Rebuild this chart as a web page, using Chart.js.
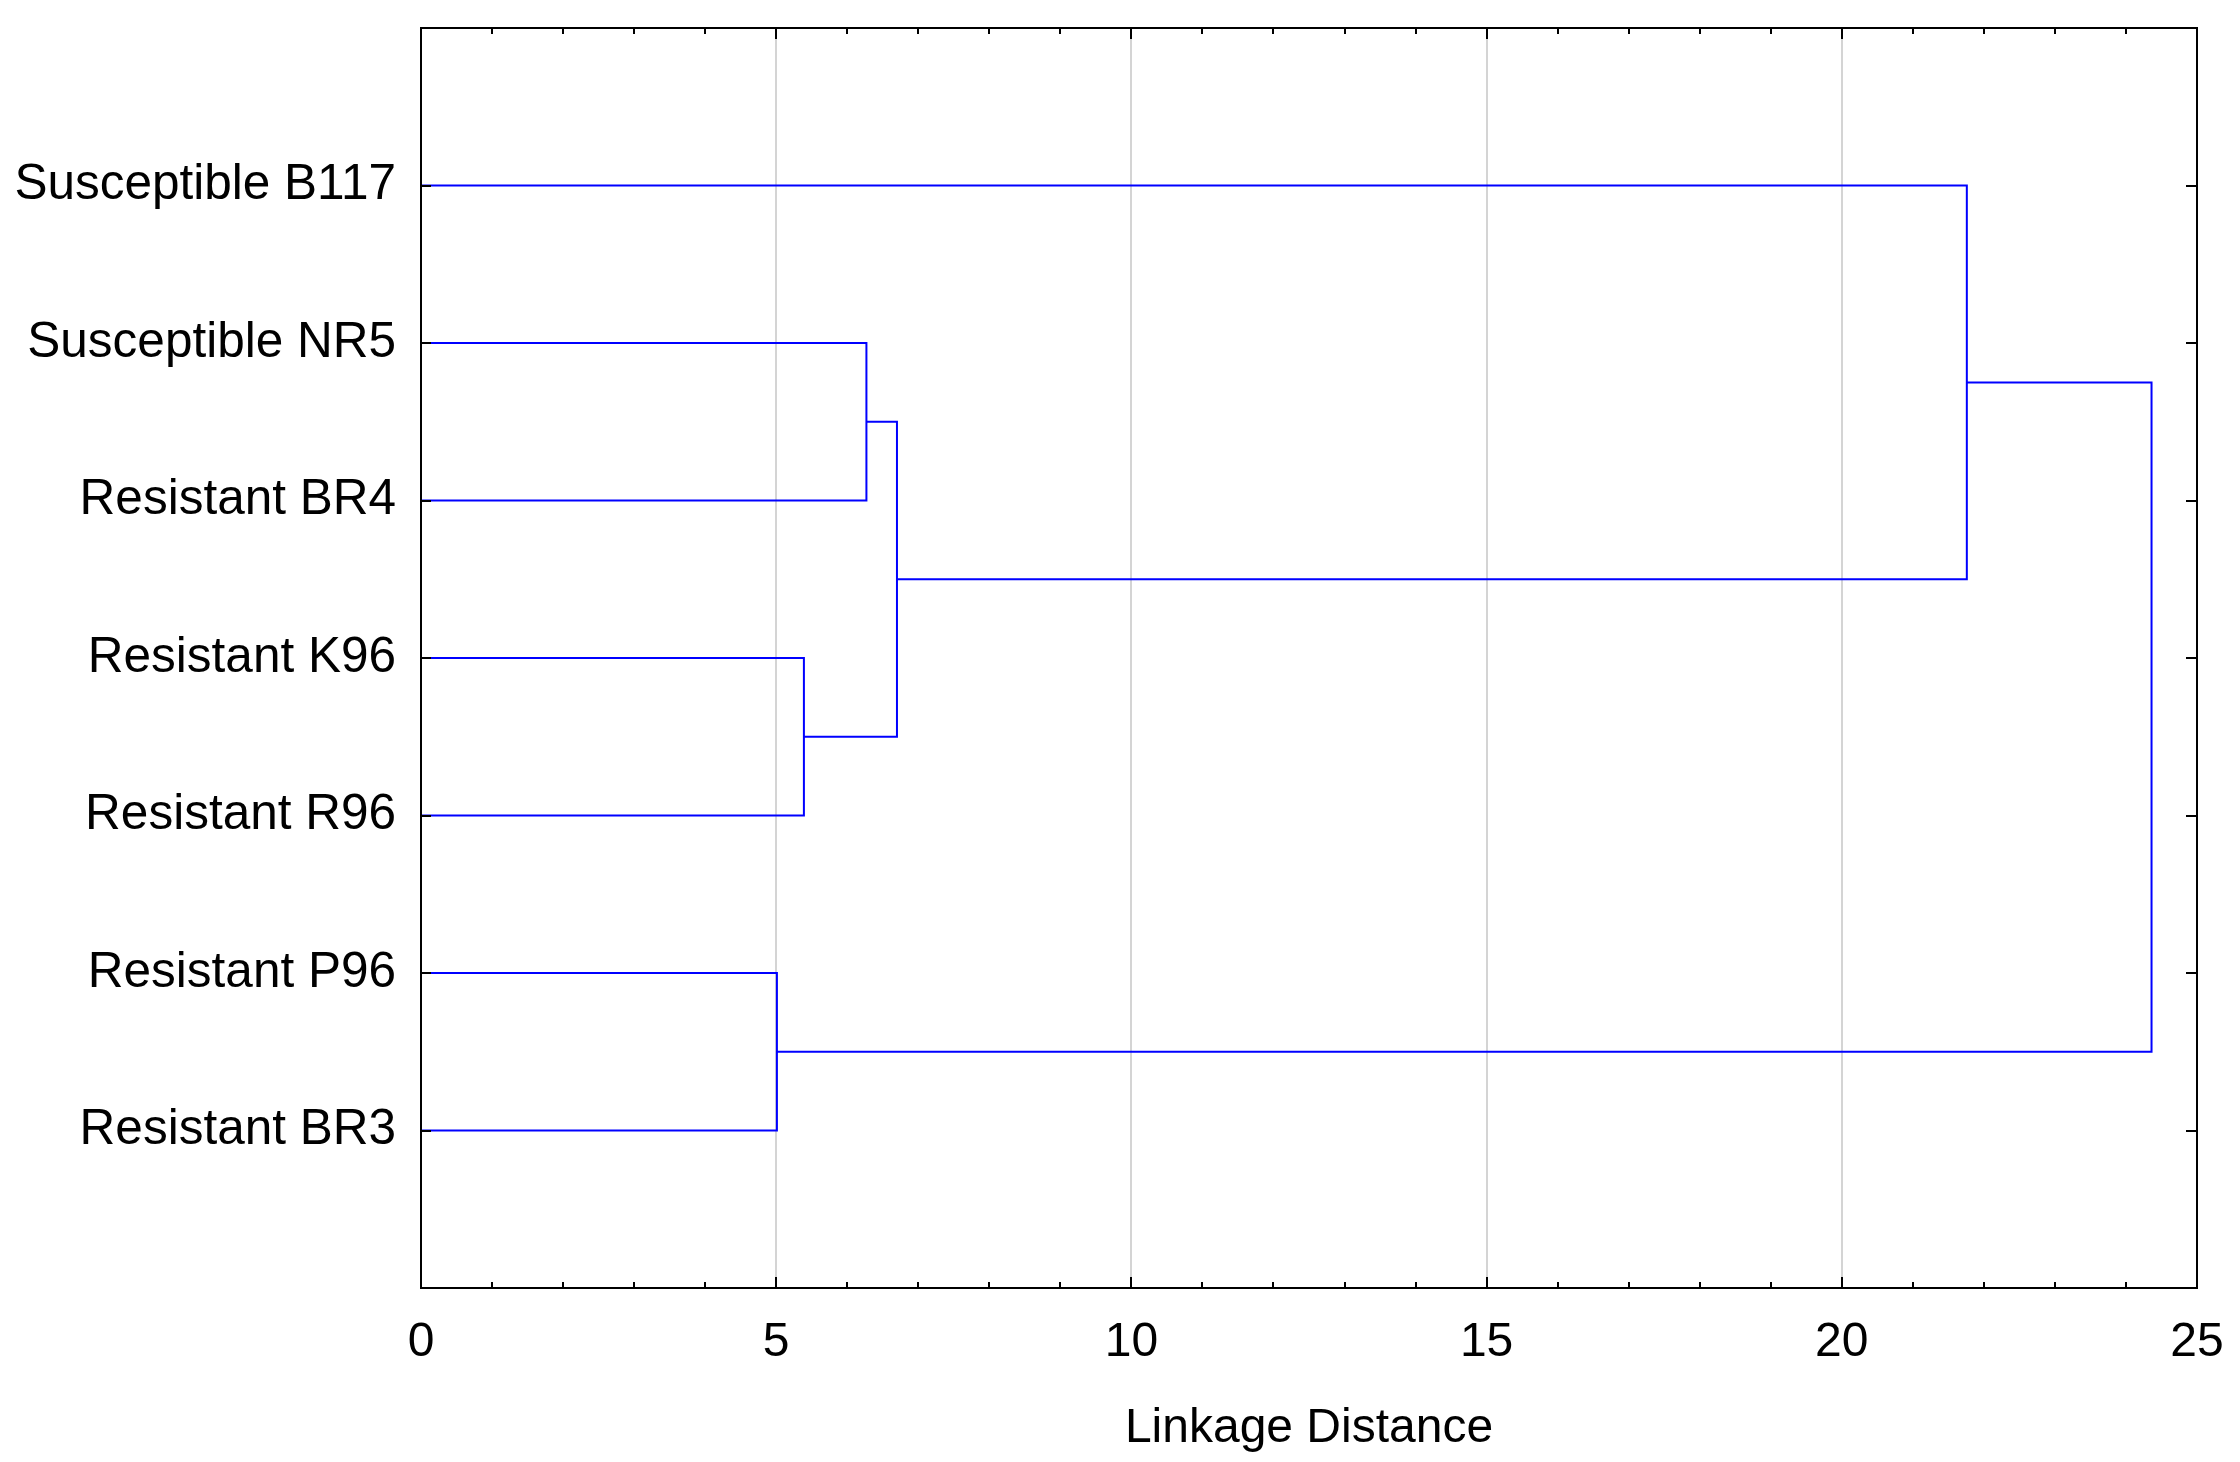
<!DOCTYPE html>
<html>
<head>
<meta charset="utf-8">
<title>Linkage Distance dendrogram</title>
<script src="https://cdn.jsdelivr.net/npm/chart.js@4.4.1/dist/chart.umd.min.js"></script>
<style>
  html, body { margin: 0; padding: 0; background: #fff; }
  #wrap { width: 2240px; height: 1462px; }
</style>
</head>
<body>
<div id="wrap"><canvas id="chart" width="2240" height="1462"></canvas></div>
<script>
'use strict';

// ── Data ─────────────────────────────────────────────────────
// leaves, top to bottom
const leafNames = [
  'Susceptible B117',
  'Susceptible NR5',
  'Resistant BR4',
  'Resistant K96',
  'Resistant R96',
  'Resistant P96',
  'Resistant BR3'
];
// linkage: ids 0..6 are leaves, each merge gets id 7, 8, ...
const mergeA    = [1, 3, 7, 5, 0, 10];
const mergeB    = [2, 4, 8, 6, 9, 11];
const mergeDist = [6.27, 5.39, 6.70, 5.01, 21.76, 24.36];

const xTicks = [0, 5, 10, 15, 20, 25];
const axisTitle = 'Linkage Distance';

// ── Build the links ─────────────────────────────────────────
const nodeY = leafNames.map((_, i) => i + 1);
const nodeH = leafNames.map(() => 0);
const links = mergeDist.map((d, k) => {
  const a = mergeA[k], b = mergeB[k];
  const seg = [
    { x: nodeH[a], y: nodeY[a] },
    { x: d,        y: nodeY[a] },
    { x: d,        y: nodeY[b] },
    { x: nodeH[b], y: nodeY[b] }
  ];
  nodeY.push((nodeY[a] + nodeY[b]) / 2);
  nodeH.push(d);
  return seg;
});

const datasets = links.map(seg => ({
  data: seg,
  showLine: true,
  borderColor: '#0000ff',
  borderWidth: 2,
  pointRadius: 0,
  tension: 0,
  clip: false
}));

// ── Frame + inward ticks (Statistica style) ─────────────────
const frameTicks = {
  id: 'frameTicks',
  afterDraw(chart) {
    const { ctx, chartArea: a, scales } = chart;
    ctx.save();
    ctx.strokeStyle = '#000';
    ctx.lineWidth = 2;
    ctx.beginPath();
    for (let v = 0; v <= 25; v++) {
      const px = Math.round(scales.x.getPixelForValue(v));
      const len = v % 5 === 0 ? 11 : 6;
      ctx.moveTo(px, a.bottom); ctx.lineTo(px, a.bottom - len);
      ctx.moveTo(px, a.top);    ctx.lineTo(px, a.top + len);
    }
    leafNames.forEach((_, i) => {
      const py = Math.round(scales.y.getPixelForValue(i + 1));
      ctx.moveTo(a.left, py);  ctx.lineTo(a.left + 10, py);
      ctx.moveTo(a.right, py); ctx.lineTo(a.right - 11, py);
    });
    ctx.stroke();
    ctx.strokeRect(a.left, a.top, a.right - a.left, a.bottom - a.top);
    ctx.restore();
  }
};

const family = '"Liberation Sans", Arial, sans-serif';
const font = { family, size: 48 };

new Chart(document.getElementById('chart').getContext('2d'), {
  type: 'scatter',
  data: { datasets },
  options: {
    responsive: false,
    animation: false,
    layout: { padding: { top: 28, right: 43, bottom: 0, left: 0 } },
    plugins: { legend: { display: false }, tooltip: { enabled: false } },
    scales: {
      x: {
        type: 'linear',
        min: 0, max: 25,
        afterBuildTicks: s => { s.ticks = xTicks.map(v => ({ value: v })); },
        afterFit: s => { s.height = 174; s.paddingLeft = 0; s.paddingRight = 0; },
        ticks: { color: '#000', font, padding: 26, maxRotation: 0 },
        grid: {
          drawTicks: false,
          lineWidth: 2,
          color: c => (c.tick && c.tick.value > 0 && c.tick.value < 25) ? '#d4d4d4' : 'rgba(0,0,0,0)'
        },
        border: { display: false },
        title: { display: true, text: axisTitle, color: '#000', font, padding: { top: 1 } }
      },
      y: {
        type: 'linear',
        reverse: true,
        min: 0, max: 8,
        afterBuildTicks: s => { s.ticks = leafNames.map((_, i) => ({ value: i + 1 })); },
        afterFit: s => { s.width = 421; s.paddingTop = 0; s.paddingBottom = 0; },
        ticks: {
          color: '#000', font: { family, size: 49.5 }, padding: 25,
          callback: v => leafNames[v - 1] || ''
        },
        grid: { display: false, drawTicks: false },
        border: { display: false }
      }
    }
  },
  plugins: [frameTicks]
});
</script>
</body>
</html>
